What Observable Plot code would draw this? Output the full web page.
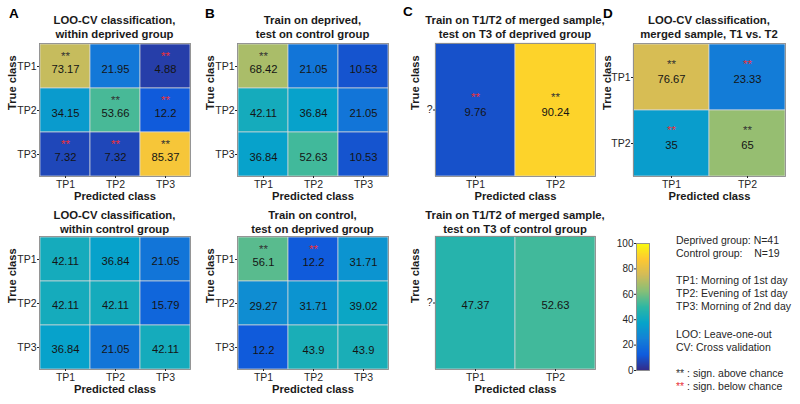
<!DOCTYPE html>
<html>
<head>
<meta charset="utf-8">
<script src="https://cdn.jsdelivr.net/npm/d3@7"></script>
<script src="https://cdn.jsdelivr.net/npm/@observablehq/plot@0.6"></script>
<style>
  html, body { margin: 0; padding: 0; background: #fff; }
  #root { position: relative; width: 800px; height: 404px; overflow: hidden; font-family: "Liberation Sans", Arial, Helvetica, sans-serif; color: #262626; }
  .title { position: absolute; width: 300px; text-align: center; font-weight: bold; font-size: 11.3px; line-height: 14px; color: #1a1a1a; white-space: nowrap; }
  .letter { position: absolute; font-weight: bold; font-size: 13.5px; color: #000; line-height: 14px; }
  .leg { position: absolute; left: 676px; font-size: 10.5px; line-height: 13px; white-space: pre; color: #262626; }
</style>
</head>
<body>
<div id="root"></div>
<script>
// ---------- data ----------
const classes3 = ["TP1", "TP2", "TP3"];
const classes2 = ["TP1", "TP2"];
const unknownClass = ["?"];

const aTopValues = [[73.17, 21.95, 4.88], [34.15, 53.66, 12.2], [7.32, 7.32, 85.37]];
const aTopSig = [["above", "", "below"], ["", "above", "below"], ["below", "below", "above"]];
const aBottomValues = [[42.11, 36.84, 21.05], [42.11, 42.11, 15.79], [36.84, 21.05, 42.11]];
const aBottomSig = [["", "", ""], ["", "", ""], ["", "", ""]];
const bTopValues = [[68.42, 21.05, 10.53], [42.11, 36.84, 21.05], [36.84, 52.63, 10.53]];
const bTopSig = [["above", "", ""], ["", "", ""], ["", "", ""]];
const bBottomValues = [[56.1, 12.2, 31.71], [29.27, 31.71, 39.02], [12.2, 43.9, 43.9]];
const bBottomSig = [["above", "below", ""], ["", "", ""], ["", "", ""]];
const cTopValues = [[9.76, 90.24]];
const cTopSig = [["below", "above"]];
const cBottomValues = [[47.37, 52.63]];
const cBottomSig = [["", ""]];
const dValues = [[76.67, 23.33], [35, 65]];
const dSig = [["above", "below"], ["below", "above"]];

const colorbarTicks = [0, 20, 40, 60, 80, 100];
const parulaStops = ["#352a87", "#0f5cdd", "#1481d6", "#06a4ca", "#2eb7a4", "#87bf77", "#d1bb59", "#fec832", "#f9fb0e"];

const titles = {
  aTop: ["LOO-CV classification,", "within deprived group"],
  aBottom: ["LOO-CV classification,", "within control group"],
  bTop: ["Train on deprived,", "test on control group"],
  bBottom: ["Train on control,", "test on deprived group"],
  cTop: ["Train on T1/T2 of merged sample,", "test on T3 of deprived group"],
  cBottom: ["Train on T1/T2 of merged sample,", "test on T3 of control group"],
  d: ["LOO-CV classification,", "merged sample, T1 vs. T2"]
};
const legendLines = [
  ["Deprived group: N=41", 240],
  ["Control group:    N=19", 253],
  ["TP1: Morning of 1st day", 280],
  ["TP2: Evening of 1st day", 293],
  ["TP3: Morning of 2nd day", 306],
  ["LOO: Leave-one-out", 334],
  ["CV: Cross validation", 347]
];

// ---------- helpers ----------
const FONT = '"Liberation Sans", Arial, Helvetica, sans-serif';
const parula = d3.piecewise(d3.interpolateRgb, parulaStops);
const root = document.getElementById("root");

function toCells(values, sig, xs, ys) {
  return values.flatMap((row, i) => row.map((v, j) => ({t: ys[i], p: xs[j], v, s: sig[i][j]})));
}

function place(svg, left, top) {
  svg.style.position = "absolute";
  svg.style.left = left + "px";
  svg.style.top = top + "px";
  root.appendChild(svg);
}

function heat({values, sig, xs, ys, bx, by, bw, bh, ylabDx, starDy, valDy, title, titleOff}) {
  const ml = 45, mr = 10, mt = 4, mb = 32;
  const data = toCells(values, sig, xs, ys);
  const svg = Plot.plot({
    width: bw + ml + mr, height: bh + mt + mb,
    marginLeft: ml, marginRight: mr, marginTop: mt, marginBottom: mb,
    x: {domain: xs, padding: 0},
    y: {domain: ys, padding: 0},
    color: {type: "linear", domain: [0, 100], interpolate: parula},
    style: {fontFamily: FONT, background: "none", overflow: "visible", color: "#262626"},
    marks: [
      Plot.cell(data, {x: "p", y: "t", fill: "v", stroke: "#d9d9d9", strokeWidth: 0.7}),
      Plot.frame({stroke: "#8c8c8c", strokeWidth: 0.9}),
      Plot.axisX({anchor: "bottom", tickSize: 2, tickPadding: 2, fontSize: 10.5, label: null}),
      Plot.axisY({anchor: "left", tickSize: 2, tickPadding: 1, fontSize: 10.5, label: null}),
      Plot.text(data, {x: "p", y: "t", text: d => String(d.v), dy: valDy, fontSize: 11.2, fill: "#141414"}),
      Plot.text(data.filter(d => d.s === "above"), {x: "p", y: "t", text: () => "**", dy: starDy, fontSize: 11.5, fill: "#333333"}),
      Plot.text(data.filter(d => d.s === "below"), {x: "p", y: "t", text: () => "**", dy: starDy, fontSize: 11.5, fill: "#e8303a"}),
      Plot.text(["Predicted class"], {frameAnchor: "bottom", dy: 23, fontSize: 11.2, fontWeight: "bold", fill: "#1a1a1a", text: d => d}),
      Plot.text(["True class"], {frameAnchor: "left", dx: ylabDx, rotate: -90, fontSize: 11.2, fontWeight: "bold", fill: "#1a1a1a", text: d => d})
    ]
  });
  place(svg, bx - ml, by - mt);
  const t = document.createElement("div");
  t.className = "title";
  t.style.left = (bx + bw / 2 - 150) + "px";
  t.style.top = (by - titleOff) + "px";
  t.innerHTML = title[0] + "<br>" + title[1];
  root.appendChild(t);
}

heat({values: aTopValues, sig: aTopSig, xs: classes3, ys: classes3, bx: 39, by: 43, bw: 151, bh: 133, ylabDx: -27, starDy: -10, valDy: 3, title: titles.aTop, titleOff: 30});
heat({values: aBottomValues, sig: aBottomSig, xs: classes3, ys: classes3, bx: 39, by: 236, bw: 151, bh: 133, ylabDx: -27, starDy: -10, valDy: 2, title: titles.aBottom, titleOff: 28});
heat({values: bTopValues, sig: bTopSig, xs: classes3, ys: classes3, bx: 237, by: 43, bw: 151, bh: 133, ylabDx: -27, starDy: -10, valDy: 3, title: titles.bTop, titleOff: 30});
heat({values: bBottomValues, sig: bBottomSig, xs: classes3, ys: classes3, bx: 237, by: 236, bw: 151, bh: 133, ylabDx: -27, starDy: -10, valDy: 3, title: titles.bBottom, titleOff: 28});
heat({values: cTopValues, sig: cTopSig, xs: classes2, ys: unknownClass, bx: 435, by: 43, bw: 160, bh: 133, ylabDx: -20, starDy: -13, valDy: 2, title: titles.cTop, titleOff: 30});
heat({values: cBottomValues, sig: cBottomSig, xs: classes2, ys: unknownClass, bx: 435, by: 236, bw: 160, bh: 133, ylabDx: -20, starDy: -13, valDy: 2, title: titles.cBottom, titleOff: 28});
heat({values: dValues, sig: dSig, xs: classes2, ys: classes2, bx: 633, by: 43, bw: 152, bh: 133, ylabDx: -26, starDy: -13, valDy: 2, title: titles.d, titleOff: 30});

// ---------- colorbar ----------
{
  const ml = 30, mr = 4, mt = 6, mb = 6;
  const bw = 13, bh = 127;
  const svg = Plot.plot({
    width: bw + ml + mr, height: bh + mt + mb,
    marginLeft: ml, marginRight: mr, marginTop: mt, marginBottom: mb,
    x: {domain: [0, 1], axis: null},
    y: {domain: [0, 100]},
    color: {type: "linear", domain: [0, 100], interpolate: parula},
    style: {fontFamily: FONT, background: "none", overflow: "visible", color: "#262626"},
    marks: [
      Plot.raster({x1: 0, x2: 1, y1: 0, y2: 100, width: 1, height: 256, fill: (x, y) => y, imageRendering: "auto"}),
      Plot.frame({stroke: "#8c8c8c", strokeWidth: 0.9}),
      Plot.axisY({ticks: colorbarTicks, tickSize: 2, tickPadding: 1, fontSize: 10, label: null})
    ]
  });
  place(svg, 636 - ml, 243 - mt);
}

// ---------- letters & legend text ----------
[["A", 9, 7], ["B", 205, 7], ["C", 403, 5], ["D", 603, 7]].forEach(([s, x, y]) => {
  const d = document.createElement("div");
  d.className = "letter";
  d.style.left = x + "px"; d.style.top = y + "px";
  d.textContent = s;
  root.appendChild(d);
});
legendLines.forEach(([s, y]) => {
  const d = document.createElement("div");
  d.className = "leg";
  d.style.top = (y - 6.5) + "px";
  d.textContent = s;
  root.appendChild(d);
});
[["#333333", "sign. above chance", 373], ["#e8303a", "sign. below chance", 386]].forEach(([c, s, y]) => {
  const d = document.createElement("div");
  d.className = "leg";
  d.style.top = (y - 6.5) + "px";
  const st = document.createElement("span");
  st.style.color = c;
  st.textContent = "**";
  d.appendChild(st);
  d.appendChild(document.createTextNode(" : " + s));
  root.appendChild(d);
});
</script>
</body>
</html>
